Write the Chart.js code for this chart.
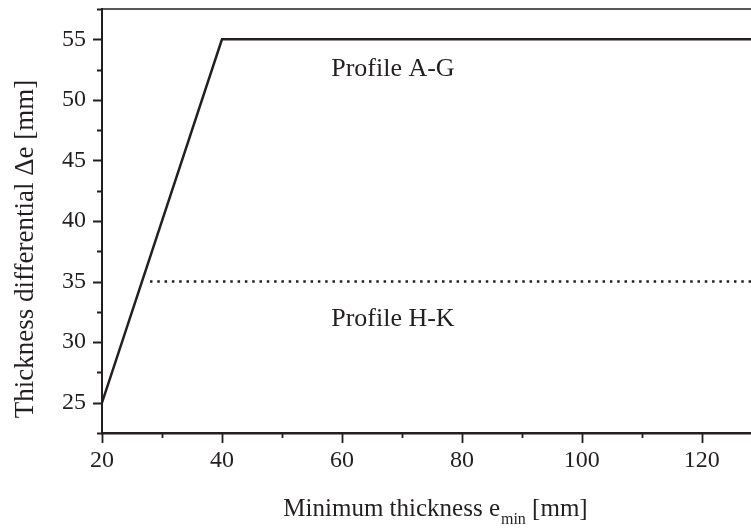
<!DOCTYPE html>
<html>
<head>
<meta charset="utf-8">
<script src="https://cdn.jsdelivr.net/npm/chart.js@4.4.0/dist/chart.umd.min.js"></script>
<style>
  html, body { margin: 0; padding: 0; background: #fff; }
  canvas { display: block; }
</style>
</head>
<body>
<canvas id="chart" width="751" height="530"></canvas>
<script>
// data
const profileAGx = [20, 40, 130];
const profileAGy = [25, 55, 55];
const profileHKx = [28, 130];
const profileHKy = [35, 35];

const xTicks = [20, 40, 60, 80, 100, 120];
const xMinor = [30, 50, 70, 90, 110];
const yTicks = [25, 30, 35, 40, 45, 50, 55];
const yMinor = [22.5, 27.5, 32.5, 37.5, 42.5, 47.5, 52.5, 57.5];

const xTitle = ["Minimum thickness e", "min", " [mm]"];
const yTitle = "Thickness differential \u0394e [mm]";
const noteAG = "Profile A-G";
const noteHK = "Profile H-K";

const ink = "#231f20";
const serif = "'Liberation Serif', 'Times New Roman', serif";

function points(xs, ys) {
  return xs.map((x, i) => ({ x: x, y: ys[i] }));
}

// top frame line, hand drawn ticks (major + minor), titles and notes
const decorations = {
  id: "decorations",
  afterDraw(chart) {
    const { ctx, chartArea: a, scales: { x, y } } = chart;
    ctx.save();
    ctx.strokeStyle = ink;
    ctx.fillStyle = ink;

    ctx.lineWidth = 1.5;
    ctx.beginPath();
    ctx.moveTo(a.left, a.top);
    ctx.lineTo(a.right, a.top);
    ctx.stroke();

    ctx.lineWidth = 1.8;
    ctx.beginPath();
    xTicks.forEach(v => {
      const px = Math.round(x.getPixelForValue(v)) + 0.5;
      ctx.moveTo(px, a.bottom); ctx.lineTo(px, a.bottom + 10);
    });
    xMinor.forEach(v => {
      const px = Math.round(x.getPixelForValue(v)) + 0.5;
      ctx.moveTo(px, a.bottom); ctx.lineTo(px, a.bottom + 5);
    });
    yTicks.forEach(v => {
      const py = Math.round(y.getPixelForValue(v)) + 0.5;
      ctx.moveTo(a.left, py); ctx.lineTo(a.left - 9, py);
    });
    yMinor.forEach(v => {
      const py = Math.round(y.getPixelForValue(v)) + 0.5;
      ctx.moveTo(a.left, py); ctx.lineTo(a.left - 5, py);
    });
    ctx.stroke();

    // notes inside the plot
    ctx.font = "26px " + serif;
    ctx.textAlign = "center";
    ctx.textBaseline = "alphabetic";
    ctx.fillText(noteAG, x.getPixelForValue(68.5), y.getPixelForValue(52.0));
    ctx.fillText(noteHK, x.getPixelForValue(68.5), y.getPixelForValue(31.3));

    // x title with subscript
    const big = "25px " + serif, small = "16px " + serif;
    ctx.font = big;
    const w1 = ctx.measureText(xTitle[0]).width;
    const w3 = ctx.measureText(xTitle[2]).width;
    ctx.font = small;
    const w2 = ctx.measureText(xTitle[1]).width;
    let tx = 435 - (w1 + w2 + w3) / 2;
    ctx.textAlign = "left";
    ctx.font = big;
    ctx.fillText(xTitle[0], tx, 516);
    ctx.font = small;
    ctx.fillText(xTitle[1], tx + w1 + 1, 524);
    ctx.font = big;
    ctx.fillText(xTitle[2], tx + w1 + w2 + 1, 516);

    // y title, rotated
    ctx.translate(33, 249);
    ctx.rotate(-Math.PI / 2);
    ctx.font = "27px " + serif;
    ctx.textAlign = "center";
    ctx.fillText(yTitle, 0, 0);
    ctx.restore();
  }
};

new Chart(document.getElementById("chart"), {
  type: "line",
  data: {
    datasets: [
      {
        label: noteAG,
        data: points(profileAGx, profileAGy),
        borderColor: ink,
        borderWidth: 2.5,
        pointRadius: 0,
        tension: 0
      },
      {
        label: noteHK,
        data: points(profileHKx, profileHKy),
        borderColor: ink,
        borderWidth: 2.5,
        borderDash: [2.5, 4.8],
        borderCapStyle: "butt",
        pointRadius: 0,
        tension: 0
      }
    ]
  },
  options: {
    responsive: false,
    animation: false,
    layout: { padding: { top: 9, right: 0, left: 0, bottom: 0 } },
    plugins: { legend: { display: false }, tooltip: { enabled: false } },
    scales: {
      x: {
        type: "linear",
        min: 20,
        max: 128.2,
        afterBuildTicks: s => { s.ticks = xTicks.map(v => ({ value: v })); },
        afterFit: s => { s.height = 97; s.paddingLeft = 0; s.paddingRight = 0; },
        grid: { display: false, drawTicks: false },
        border: { display: true, color: ink, width: 2.5 },
        ticks: { color: ink, padding: 13, maxRotation: 0, font: { family: serif, size: 24 } }
      },
      y: {
        type: "linear",
        min: 22.5,
        max: 57.5,
        afterBuildTicks: s => { s.ticks = yTicks.map(v => ({ value: v })); },
        afterFit: s => { s.width = 102; s.paddingTop = 0; s.paddingBottom = 0; },
        grid: { display: false, drawTicks: false },
        border: { display: true, color: ink, width: 2 },
        ticks: { color: ink, padding: 16, font: { family: serif, size: 24 } }
      }
    }
  },
  plugins: [decorations]
});
</script>
</body>
</html>
